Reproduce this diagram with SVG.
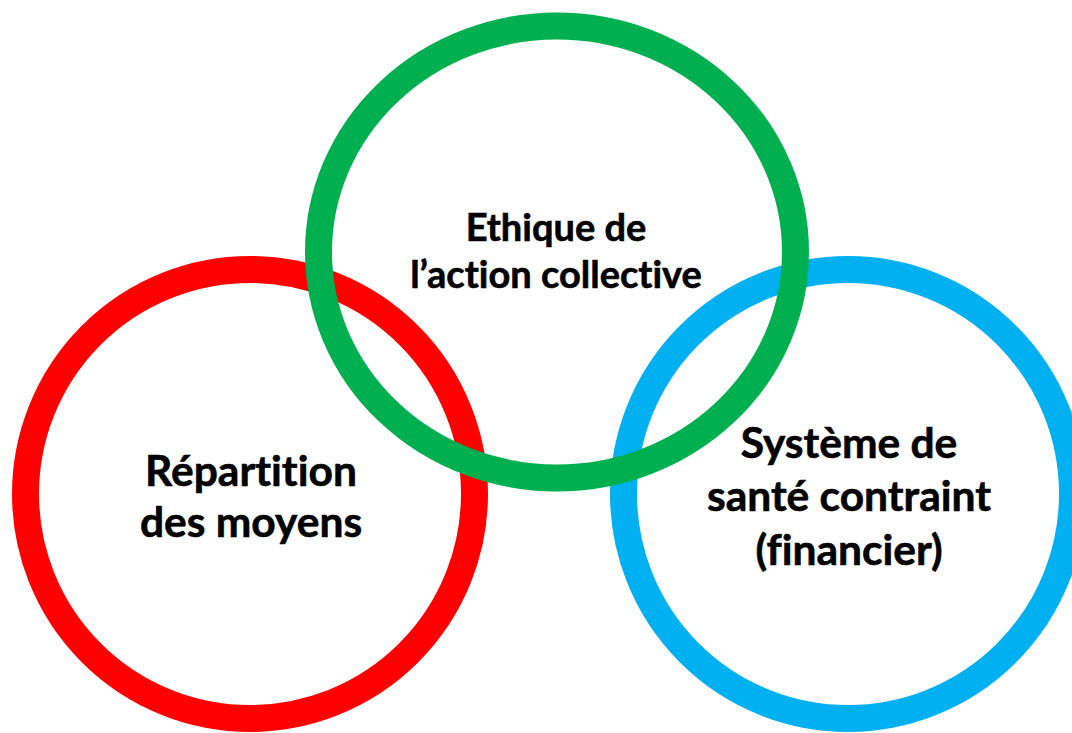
<svg xmlns="http://www.w3.org/2000/svg" width="1072" height="733" viewBox="0 0 1072 733">
  <style>
    .ring { fill: none; stroke-width: 27; }
    .label { font-family: Lato, "Open Sans", "Liberation Sans", sans-serif; font-weight: bold; fill: #000; stroke: #000; stroke-width: 0.6; text-anchor: middle; font-variant-ligatures: none; }
    .small { font-size: 38px; }
    .large { font-size: 42.5px; }
  </style>
  <rect width="1072" height="733" fill="#ffffff"/>

  <g id="repartition">
    <circle class="ring" cx="250" cy="494" r="224.5" stroke="#FF0000"/>
    <text class="label large" x="251" y="486">Répartition</text>
    <text class="label large" x="251" y="537">des moyens</text>
  </g>

  <g id="systeme-sante">
    <circle class="ring" cx="848" cy="494" r="224.5" stroke="#00B0F0"/>
    <text class="label large" x="849" y="458">Système de</text>
    <text class="label large" x="849" y="511">santé contraint</text>
    <text class="label large" x="849" y="565">(financier)</text>
  </g>

  <g id="ethique">
    <ellipse class="ring" cx="557" cy="252" rx="238.5" ry="226" stroke="#00B050"/>
    <text class="label small" x="556" y="241">Ethique de</text>
    <text class="label small" x="556" y="288">l’action collective</text>
  </g>

  <g id="connectors"/>
</svg>
